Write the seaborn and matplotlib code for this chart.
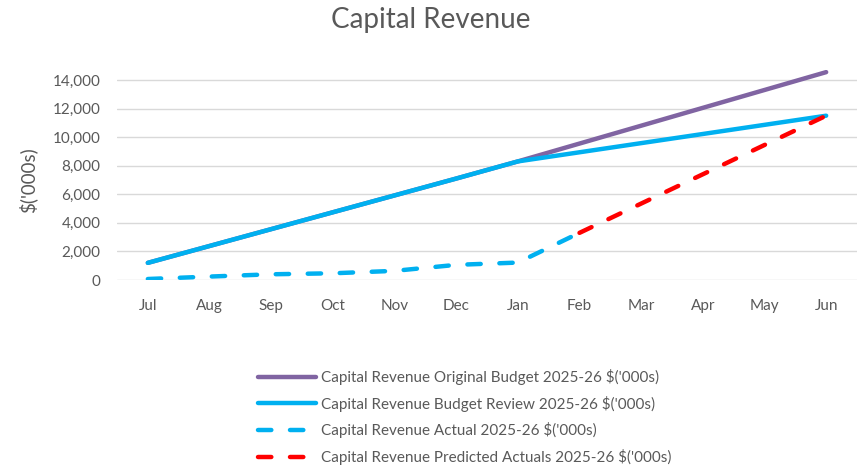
import pandas as pd
import seaborn as sns
import matplotlib.pyplot as plt

months = ['Jul', 'Aug', 'Sep', 'Oct', 'Nov', 'Dec', 'Jan', 'Feb', 'Mar', 'Apr', 'May', 'Jun']
original_budget = [1200, 2380, 3560, 4740, 5920, 7100, 8300, 9550, 10800, 12050, 13300, 14550]
budget_review = [1200, 2380, 3560, 4740, 5920, 7100, 8300, 8940, 9580, 10220, 10860, 11500]
actual = [70, 240, 400, 470, 640, 1060, 1220, 3300]
predicted = [3300, 5350, 7400, 9450, 11500]

labels = [
    "Capital Revenue Original Budget 2025-26 $('000s)",
    "Capital Revenue Budget Review 2025-26 $('000s)",
    "Capital Revenue Actual 2025-26 $('000s)",
    "Capital Revenue Predicted Actuals 2025-26 $('000s)",
]

sns.set_style('white')
plt.rcParams['font.family'] = ['Lato', 'DejaVu Sans']

grey = '#595959'
fig = plt.figure(figsize=(8.61, 4.70), dpi=100)
ax = fig.add_axes([117 / 861, 1 - 280 / 470, 740 / 861, (280 - 65.7) / 470])

idx = list(range(len(months)))
df_orig = pd.DataFrame({'x': idx, 'y': original_budget})
df_rev = pd.DataFrame({'x': idx, 'y': budget_review})
df_act = pd.DataFrame({'x': idx[:len(actual)], 'y': actual})
df_pred = pd.DataFrame({'x': idx[-len(predicted):], 'y': predicted})

lw = 3.2
sns.lineplot(data=df_orig, x='x', y='y', ax=ax, color='#8064A2', lw=lw,
             label=labels[0], solid_capstyle='round')
sns.lineplot(data=df_rev, x='x', y='y', ax=ax, color='#00B0F0', lw=lw,
             label=labels[1], solid_capstyle='round')
sns.lineplot(data=df_act, x='x', y='y', ax=ax, color='#00B0F0', lw=lw,
             label=labels[2], dash_capstyle='round')
sns.lineplot(data=df_pred, x='x', y='y', ax=ax, color='#FF0000', lw=lw,
             label=labels[3], dash_capstyle='round')
for line in ax.lines[2:4]:
    line.set_dashes((3.0, 4.2))

ax.set_xlim(-0.5, 11.5)
ax.set_ylim(0, 15000)
ax.set_xticks(idx)
ax.set_xticklabels(months)
ax.set_yticks(range(0, 14001, 2000))
ax.set_yticklabels([f'{v:,}' for v in range(0, 14001, 2000)])
ax.tick_params(axis='both', length=0, labelsize=11, colors=grey)
ax.tick_params(axis='x', pad=14)
ax.tick_params(axis='y', pad=12)
ax.grid(axis='y', color='#d9d9d9', lw=1)
ax.set_axisbelow(True)
for s in ax.spines.values():
    s.set_visible(False)
ax.set_xlabel('')
ax.set_ylabel("$('000s)", fontsize=13.5, color=grey)
ax.yaxis.set_label_coords(37 / 861, 1 - 180 / 470, transform=fig.transFigure)

fig.suptitle('Capital Revenue', x=0.5, y=1 - 20 / 470, va='center', fontsize=20, color=grey)

handles, labs = ax.get_legend_handles_labels()
ax.get_legend().remove()
fig.legend(handles, labs, loc='upper left', bbox_to_anchor=(258 / 861, 1 - 369 / 470),
           frameon=False, borderpad=0, borderaxespad=0, handlelength=3.8,
           handletextpad=0.33, labelspacing=0.7, fontsize=11, labelcolor=grey)

fig.savefig('out.png', dpi=100)
